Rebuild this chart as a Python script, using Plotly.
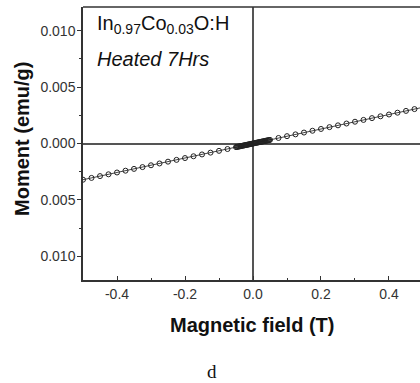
import plotly.graph_objects as go

# Magnetic field (T)
field = [-0.5, -0.475, -0.45, -0.425, -0.4, -0.375, -0.35, -0.325, -0.3, -0.275,
         -0.25, -0.225, -0.2, -0.175, -0.15, -0.125, -0.1, -0.075,
         -0.05, -0.0475, -0.045, -0.0425, -0.04, -0.0375, -0.035, -0.0325, -0.03, -0.0275,
         -0.025, -0.0225, -0.02, -0.0175, -0.015, -0.0125, -0.01, -0.0075, -0.005, -0.0025,
         0.0, 0.0025, 0.005, 0.0075, 0.01, 0.0125, 0.015, 0.0175, 0.02, 0.0225,
         0.025, 0.0275, 0.03, 0.0325, 0.035, 0.0375, 0.04, 0.0425, 0.045, 0.0475, 0.05,
         0.075, 0.1, 0.125, 0.15, 0.175, 0.2, 0.225, 0.25, 0.275, 0.3,
         0.325, 0.35, 0.375, 0.4, 0.425, 0.45, 0.475, 0.5]
# Moment (emu/g)
moment = [-0.00321, -0.00305, -0.00289, -0.00273, -0.00257, -0.00241, -0.00225, -0.00209, -0.00193, -0.00177,
          -0.00161, -0.00145, -0.00129, -0.00113, -0.00097, -0.00081, -0.00065, -0.00049,
          -0.00032, -0.00030, -0.00029, -0.00027, -0.00026, -0.00024, -0.00022, -0.00021, -0.00019, -0.00018,
          -0.00016, -0.00014, -0.00013, -0.00011, -0.00010, -0.00008, -0.00006, -0.00005, -0.00003, -0.00002,
          0.0, 0.00002, 0.00003, 0.00005, 0.00006, 0.00008, 0.00010, 0.00011, 0.00013, 0.00014,
          0.00016, 0.00018, 0.00019, 0.00021, 0.00022, 0.00024, 0.00026, 0.00027, 0.00029, 0.00030, 0.00032,
          0.00049, 0.00065, 0.00081, 0.00097, 0.00113, 0.00129, 0.00145, 0.00161, 0.00177, 0.00193,
          0.00209, 0.00225, 0.00241, 0.00257, 0.00273, 0.00289, 0.00305, 0.00321]

x_tickvals = [-0.4, -0.2, 0.0, 0.2, 0.4]
x_ticktext = ["-0.4", "-0.2", "0.0", "0.2", "0.4"]
y_tickvals = [0.010, 0.005, 0.0, -0.005, -0.010]
y_ticktext = ["0.010", "0.005", "0.000", "0.005", "0.010"]

sans = "Arial, Liberation Sans, sans-serif"
axis_col = "#333333"

fig = go.Figure()
fig.add_trace(go.Scatter(
    x=field, y=moment, mode="lines+markers",
    line=dict(color="#444444", width=1),
    marker=dict(symbol="circle-open", size=5, color="#222222", line=dict(width=1)),
    showlegend=False, hoverinfo="skip"))

fig.update_layout(
    width=420, height=383,
    margin=dict(l=83, r=0, t=7, b=103),
    paper_bgcolor="white", plot_bgcolor="white",
    xaxis=dict(range=[-0.5, 0.4912], tickvals=x_tickvals, ticktext=x_ticktext,
               ticks="inside", ticklen=4, tickwidth=1, tickcolor=axis_col,
               showline=True, linecolor=axis_col, linewidth=1.5,
               showgrid=False, zeroline=True, zerolinecolor="#555555", zerolinewidth=1.5,
               tickfont=dict(family=sans, size=14, color="#333333"),
               minor=dict(ticks="inside", ticklen=2, dtick=0.1, tick0=0, tickcolor=axis_col)),
    yaxis=dict(range=[-0.0121, 0.0121], tickvals=y_tickvals, ticktext=y_ticktext,
               ticks="outside", ticklen=4, tickwidth=1, tickcolor=axis_col,
               ticklabelstandoff=-1,
               showline=True, linecolor=axis_col, linewidth=1.5,
               showgrid=False, zeroline=True, zerolinecolor="#555555", zerolinewidth=1.5,
               tickfont=dict(family=sans, size=14, color="#333333"),
               minor=dict(ticks="outside", ticklen=2, dtick=0.0025, tick0=0, tickcolor=axis_col)),
    shapes=[dict(type="line", xref="paper", yref="paper", x0=0, x1=1, y0=1, y1=1,
                 line=dict(color=axis_col, width=1.5))],
    annotations=[
        dict(text="In<sub>0.97</sub>Co<sub>0.03</sub>O:H", xref="paper", yref="paper",
             x=0.0356, y=(280 - 24) / 273, xanchor="left", yanchor="middle", showarrow=False,
             font=dict(family=sans, size=20, color="#111111")),
        dict(text="<i>Heated 7Hrs</i>", xref="paper", yref="paper",
             x=0.0356, y=(280 - 59) / 273, xanchor="left", yanchor="middle", showarrow=False,
             font=dict(family=sans, size=20, color="#111111")),
        dict(text="<b>Magnetic field (T)</b>", xref="paper", yref="paper",
             x=0.5, y=0, yshift=-45, xanchor="center", yanchor="middle", showarrow=False,
             font=dict(family=sans, size=20, color="#111111")),
        dict(text="<b>Moment (emu/g)</b>", xref="paper", yref="paper", textangle=-90,
             x=0, xshift=-61, y=(280 - 139) / 273, xanchor="center", yanchor="middle", showarrow=False,
             font=dict(family=sans, size=20, color="#111111")),
        dict(text="d", xref="paper", yref="paper",
             x=(212 - 83) / 337, y=0, yshift=-91, xanchor="center", yanchor="middle", showarrow=False,
             font=dict(family="Times New Roman, Liberation Serif, serif", size=19, color="#111111")),
    ],
)

fig.write_html("out.html", config={"displayModeBar": False},
               post_script="document.body.style.margin='0';document.body.style.overflow='hidden';")
